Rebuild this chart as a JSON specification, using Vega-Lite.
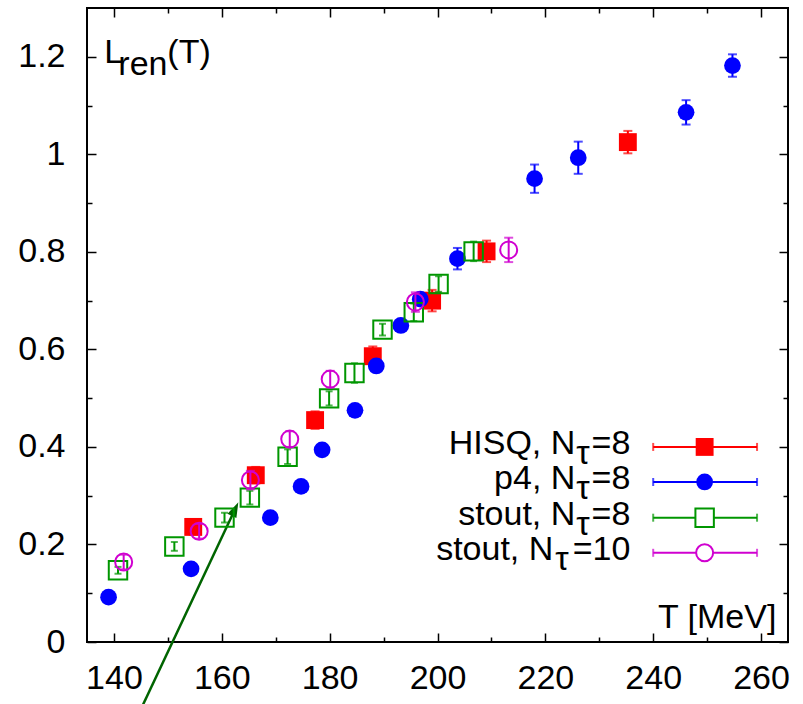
{
  "$schema": "https://vega.github.io/schema/vega-lite/v6.json",
  "autosize": {"type": "none"},
  "padding": {"left": 87, "top": 8, "right": 15, "bottom": 62},
  "width": 701,
  "height": 634,
  "background": "white",
  "config": {
    "view": {"stroke": "black", "strokeWidth": 2},
    "text": {"baseline": "alphabetic", "font": "Liberation Sans", "fontSize": 34, "color": "black"},
    "axis": {
      "labelFont": "Liberation Sans",
      "labelFontSize": 34,
      "labelColor": "black",
      "tickColor": "black",
      "tickWidth": 1.5,
      "domain": false,
      "grid": false,
      "title": null,
      "labelOverlap": false,
      "labelFlush": false
    }
  },
  "datasets": {
    "hisq": [
      {"T": 154.7, "L": 0.236, "err": 0.016},
      {"T": 166.3, "L": 0.342, "err": 0.017},
      {"T": 177.3, "L": 0.455, "err": 0.018},
      {"T": 188.0, "L": 0.586, "err": 0.02},
      {"T": 199.0, "L": 0.700, "err": 0.022},
      {"T": 209.1, "L": 0.801, "err": 0.022},
      {"T": 235.3, "L": 1.025, "err": 0.023}
    ],
    "p4": [
      {"T": 139.0, "L": 0.092, "err": 0.003},
      {"T": 154.3, "L": 0.150, "err": 0.004},
      {"T": 169.0, "L": 0.255, "err": 0.004},
      {"T": 174.7, "L": 0.319, "err": 0.005},
      {"T": 178.6, "L": 0.394, "err": 0.005},
      {"T": 184.7, "L": 0.475, "err": 0.006},
      {"T": 188.65, "L": 0.566, "err": 0.007},
      {"T": 193.2, "L": 0.649, "err": 0.008},
      {"T": 196.8, "L": 0.703, "err": 0.012},
      {"T": 203.7, "L": 0.786, "err": 0.022},
      {"T": 218.0, "L": 0.950, "err": 0.029},
      {"T": 226.1, "L": 0.993, "err": 0.033},
      {"T": 246.1, "L": 1.086, "err": 0.025},
      {"T": 254.7, "L": 1.182, "err": 0.023}
    ],
    "stout8": [
      {"T": 140.75, "L": 0.147, "err": 0.007},
      {"T": 151.2, "L": 0.196, "err": 0.009},
      {"T": 160.5, "L": 0.255, "err": 0.010},
      {"T": 165.2, "L": 0.296, "err": 0.014},
      {"T": 172.2, "L": 0.380, "err": 0.015},
      {"T": 179.9, "L": 0.4995, "err": 0.0145},
      {"T": 184.6, "L": 0.5515, "err": 0.02},
      {"T": 189.8, "L": 0.6405, "err": 0.012},
      {"T": 195.6, "L": 0.676, "err": 0.018},
      {"T": 200.2, "L": 0.734, "err": 0.016},
      {"T": 206.7, "L": 0.801, "err": 0.02}
    ],
    "stout10": [
      {"T": 141.8, "L": 0.164, "err": 0.015},
      {"T": 155.8, "L": 0.227, "err": 0.015},
      {"T": 165.3, "L": 0.332, "err": 0.019},
      {"T": 172.6, "L": 0.416, "err": 0.016},
      {"T": 180.1, "L": 0.539, "err": 0.017},
      {"T": 195.9, "L": 0.697, "err": 0.02},
      {"T": 213.2, "L": 0.804, "err": 0.025}
    ]
  },
  "resolve": {"axis": {"x": "independent", "y": "independent"}},
  "layer": [
    {
      "data": {"values": [{}]},
      "mark": {"type": "rule", "color": "#006400", "strokeWidth": 2.5},
      "encoding": {
        "x": {"datum": 144.9, "type": "quantitative",
          "scale": {"domain": [135, 265], "nice": false, "zero": false},
          "axis": {"orient": "bottom", "values": [140,150,160,170,180,190,200,210,220,230,240,250,260],
            "format": "d",
            "labelExpr": "datum.value % 20 == 0 ? datum.label : ''",
            "tickSize": {"condition": {"test": "datum.value % 20 == 0", "value": -9}, "value": -5},
            "labelPadding": 28}},
        "y": {"datum": -0.14, "type": "quantitative",
          "scale": {"domain": [0, 1.3], "nice": false, "zero": false},
          "axis": {"orient": "left", "values": [0,0.1,0.2,0.3,0.4,0.5,0.6,0.7,0.8,0.9,1,1.1,1.2],
            "format": "~g",
            "labelExpr": "abs(datum.value*5 - round(datum.value*5)) < 0.001 ? datum.label : ''",
            "tickSize": {"condition": {"test": "abs(datum.value*5 - round(datum.value*5)) < 0.001", "value": -9}, "value": -5},
            "labelPadding": 31}},
        "x2": {"datum": 162.43},
        "y2": {"datum": 0.2715}
      }
    },
    {
      "data": {"values": [{}]},
      "mark": {"type": "point", "shape": "M0,0L-0.33,1L0.33,1Z", "filled": true, "color": "#006400", "size": 900, "angle": 25.2, "opacity": 1},
      "encoding": {
        "x": {"datum": 163.06, "type": "quantitative",
          "axis": {"orient": "top", "values": [140,150,160,170,180,190,200,210,220,230,240,250,260],
            "labels": false,
            "tickSize": {"condition": {"test": "datum.value % 20 == 0", "value": -9}, "value": -5}}},
        "y": {"datum": 0.2863, "type": "quantitative",
          "axis": {"orient": "right", "values": [0,0.1,0.2,0.3,0.4,0.5,0.6,0.7,0.8,0.9,1,1.1,1.2],
            "labels": false,
            "tickSize": {"condition": {"test": "abs(datum.value*5 - round(datum.value*5)) < 0.001", "value": -9}, "value": -5}}}
      }
    },
    {
      "data": {"name": "hisq"},
      "layer": [
        {"mark": {"type": "errorbar", "color": "#ff0000", "thickness": 2, "ticks": {"size": 9}},
         "encoding": {"x": {"field": "T", "type": "quantitative", "axis": null},
                      "y": {"field": "L", "type": "quantitative", "axis": null},
                      "yError": {"field": "err"}}},
        {"mark": {"type": "point", "shape": "square", "filled": true, "color": "#ff0000", "size": 320, "opacity": 1},
         "encoding": {"x": {"field": "T", "type": "quantitative", "axis": null},
                      "y": {"field": "L", "type": "quantitative", "axis": null}}}
      ]
    },
    {
      "data": {"name": "p4"},
      "layer": [
        {"mark": {"type": "errorbar", "color": "#0000ff", "thickness": 2, "ticks": {"size": 9}},
         "encoding": {"x": {"field": "T", "type": "quantitative", "axis": null},
                      "y": {"field": "L", "type": "quantitative", "axis": null},
                      "yError": {"field": "err"}}},
        {"mark": {"type": "point", "shape": "circle", "filled": true, "color": "#0000ff", "size": 280, "opacity": 1},
         "encoding": {"x": {"field": "T", "type": "quantitative", "axis": null},
                      "y": {"field": "L", "type": "quantitative", "axis": null}}}
      ]
    },
    {
      "data": {"name": "stout8"},
      "layer": [
        {"mark": {"type": "errorbar", "color": "#009600", "thickness": 2, "ticks": {"size": 7}},
         "encoding": {"x": {"field": "T", "type": "quantitative", "axis": null},
                      "y": {"field": "L", "type": "quantitative", "axis": null},
                      "yError": {"field": "err"}}},
        {"mark": {"type": "point", "shape": "square", "filled": false, "color": "#009600", "strokeWidth": 2, "size": 340, "opacity": 1},
         "encoding": {"x": {"field": "T", "type": "quantitative", "axis": null},
                      "y": {"field": "L", "type": "quantitative", "axis": null}}}
      ]
    },
    {
      "data": {"name": "stout10"},
      "layer": [
        {"mark": {"type": "errorbar", "color": "#d000d0", "thickness": 2, "ticks": {"size": 9}},
         "encoding": {"x": {"field": "T", "type": "quantitative", "axis": null},
                      "y": {"field": "L", "type": "quantitative", "axis": null},
                      "yError": {"field": "err"}}},
        {"mark": {"type": "point", "shape": "circle", "filled": false, "color": "#d000d0", "strokeWidth": 2, "size": 290, "opacity": 1},
         "encoding": {"x": {"field": "T", "type": "quantitative", "axis": null},
                      "y": {"field": "L", "type": "quantitative", "axis": null}}}
      ]
    },
    {
      "data": {"values": [{}]},
      "encoding": {"y": {"datum": 0.4, "type": "quantitative", "axis": null}},
      "layer": [
        {"mark": {"type": "rule", "color": "#ff0000", "strokeWidth": 2}, "encoding": {"x": {"datum": 240.0, "type": "quantitative", "axis": null}, "x2": {"datum": 259.26}}},
        {"mark": {"type": "tick", "orient": "vertical", "color": "#ff0000", "size": 8, "thickness": 2}, "encoding": {"x": {"datum": 240.0, "type": "quantitative", "axis": null}}},
        {"mark": {"type": "tick", "orient": "vertical", "color": "#ff0000", "size": 8, "thickness": 2}, "encoding": {"x": {"datum": 259.26, "type": "quantitative", "axis": null}}},
        {"mark": {"type": "point", "shape": "square", "filled": true, "color": "#ff0000", "size": 320, "opacity": 1}, "encoding": {"x": {"datum": 249.54, "type": "quantitative", "axis": null}}},
        {"mark": {"type": "text", "text": "HISQ, N", "align": "right", "dx": -55, "dy": 7}, "encoding": {"x": {"datum": 235.76, "type": "quantitative", "axis": null}}},
        {"mark": {"type": "text", "text": "τ", "align": "left", "dx": -54, "dy": 17}, "encoding": {"x": {"datum": 235.76, "type": "quantitative", "axis": null}}},
        {"mark": {"type": "text", "text": "=8", "align": "right", "dx": 0, "dy": 7}, "encoding": {"x": {"datum": 235.76, "type": "quantitative", "axis": null}}}
      ]
    },
    {
      "data": {"values": [{}]},
      "encoding": {"y": {"datum": 0.3281, "type": "quantitative", "axis": null}},
      "layer": [
        {"mark": {"type": "rule", "color": "#0000ff", "strokeWidth": 2}, "encoding": {"x": {"datum": 240.0, "type": "quantitative", "axis": null}, "x2": {"datum": 259.26}}},
        {"mark": {"type": "tick", "orient": "vertical", "color": "#0000ff", "size": 8, "thickness": 2}, "encoding": {"x": {"datum": 240.0, "type": "quantitative", "axis": null}}},
        {"mark": {"type": "tick", "orient": "vertical", "color": "#0000ff", "size": 8, "thickness": 2}, "encoding": {"x": {"datum": 259.26, "type": "quantitative", "axis": null}}},
        {"mark": {"type": "point", "shape": "circle", "filled": true, "color": "#0000ff", "size": 280, "opacity": 1}, "encoding": {"x": {"datum": 249.54, "type": "quantitative", "axis": null}}},
        {"mark": {"type": "text", "text": "p4, N", "align": "right", "dx": -55, "dy": 7}, "encoding": {"x": {"datum": 235.76, "type": "quantitative", "axis": null}}},
        {"mark": {"type": "text", "text": "τ", "align": "left", "dx": -54, "dy": 17}, "encoding": {"x": {"datum": 235.76, "type": "quantitative", "axis": null}}},
        {"mark": {"type": "text", "text": "=8", "align": "right", "dx": 0, "dy": 7}, "encoding": {"x": {"datum": 235.76, "type": "quantitative", "axis": null}}}
      ]
    },
    {
      "data": {"values": [{}]},
      "encoding": {"y": {"datum": 0.2549, "type": "quantitative", "axis": null}},
      "layer": [
        {"mark": {"type": "rule", "color": "#009600", "strokeWidth": 2}, "encoding": {"x": {"datum": 240.0, "type": "quantitative", "axis": null}, "x2": {"datum": 259.26}}},
        {"mark": {"type": "tick", "orient": "vertical", "color": "#009600", "size": 8, "thickness": 2}, "encoding": {"x": {"datum": 240.0, "type": "quantitative", "axis": null}}},
        {"mark": {"type": "tick", "orient": "vertical", "color": "#009600", "size": 8, "thickness": 2}, "encoding": {"x": {"datum": 259.26, "type": "quantitative", "axis": null}}},
        {"mark": {"type": "point", "shape": "square", "filled": false, "fill": "white", "stroke": "#009600", "strokeWidth": 2, "size": 340, "opacity": 1, "fillOpacity": 1}, "encoding": {"x": {"datum": 249.54, "type": "quantitative", "axis": null}}},
        {"mark": {"type": "text", "text": "stout, N", "align": "right", "dx": -55, "dy": 7}, "encoding": {"x": {"datum": 235.76, "type": "quantitative", "axis": null}}},
        {"mark": {"type": "text", "text": "τ", "align": "left", "dx": -54, "dy": 17}, "encoding": {"x": {"datum": 235.76, "type": "quantitative", "axis": null}}},
        {"mark": {"type": "text", "text": "=8", "align": "right", "dx": 0, "dy": 7}, "encoding": {"x": {"datum": 235.76, "type": "quantitative", "axis": null}}}
      ]
    },
    {
      "data": {"values": [{}]},
      "encoding": {"y": {"datum": 0.1829, "type": "quantitative", "axis": null}},
      "layer": [
        {"mark": {"type": "rule", "color": "#d000d0", "strokeWidth": 2}, "encoding": {"x": {"datum": 240.0, "type": "quantitative", "axis": null}, "x2": {"datum": 259.26}}},
        {"mark": {"type": "tick", "orient": "vertical", "color": "#d000d0", "size": 8, "thickness": 2}, "encoding": {"x": {"datum": 240.0, "type": "quantitative", "axis": null}}},
        {"mark": {"type": "tick", "orient": "vertical", "color": "#d000d0", "size": 8, "thickness": 2}, "encoding": {"x": {"datum": 259.26, "type": "quantitative", "axis": null}}},
        {"mark": {"type": "point", "shape": "circle", "filled": false, "fill": "white", "stroke": "#d000d0", "strokeWidth": 2, "size": 290, "opacity": 1, "fillOpacity": 1}, "encoding": {"x": {"datum": 249.54, "type": "quantitative", "axis": null}}},
        {"mark": {"type": "text", "text": "stout, N", "align": "right", "dx": -77, "dy": 7}, "encoding": {"x": {"datum": 235.76, "type": "quantitative", "axis": null}}},
        {"mark": {"type": "text", "text": "τ", "align": "left", "dx": -75, "dy": 17}, "encoding": {"x": {"datum": 235.76, "type": "quantitative", "axis": null}}},
        {"mark": {"type": "text", "text": "=10", "align": "right", "dx": 0, "dy": 7}, "encoding": {"x": {"datum": 235.76, "type": "quantitative", "axis": null}}}
      ]
    },
    {
      "data": {"values": [{}]},
      "encoding": {"y": {"datum": 1.188, "type": "quantitative", "axis": null}},
      "layer": [
        {"mark": {"type": "text", "text": "L", "align": "left", "dx": 0}, "encoding": {"x": {"datum": 138.21, "type": "quantitative", "axis": null}}},
        {"mark": {"type": "text", "text": "ren", "align": "left", "dx": 14, "dy": 12}, "encoding": {"x": {"datum": 138.21, "type": "quantitative", "axis": null}}},
        {"mark": {"type": "text", "text": "(T)", "align": "left", "dx": 63}, "encoding": {"x": {"datum": 138.21, "type": "quantitative", "axis": null}}}
      ]
    },
    {
      "data": {"values": [{}]},
      "mark": {"type": "text", "text": "T [MeV]", "align": "right"},
      "encoding": {"x": {"datum": 262.84, "type": "quantitative", "axis": null}, "y": {"datum": 0.0288, "type": "quantitative", "axis": null}}
    }
  ]
}
